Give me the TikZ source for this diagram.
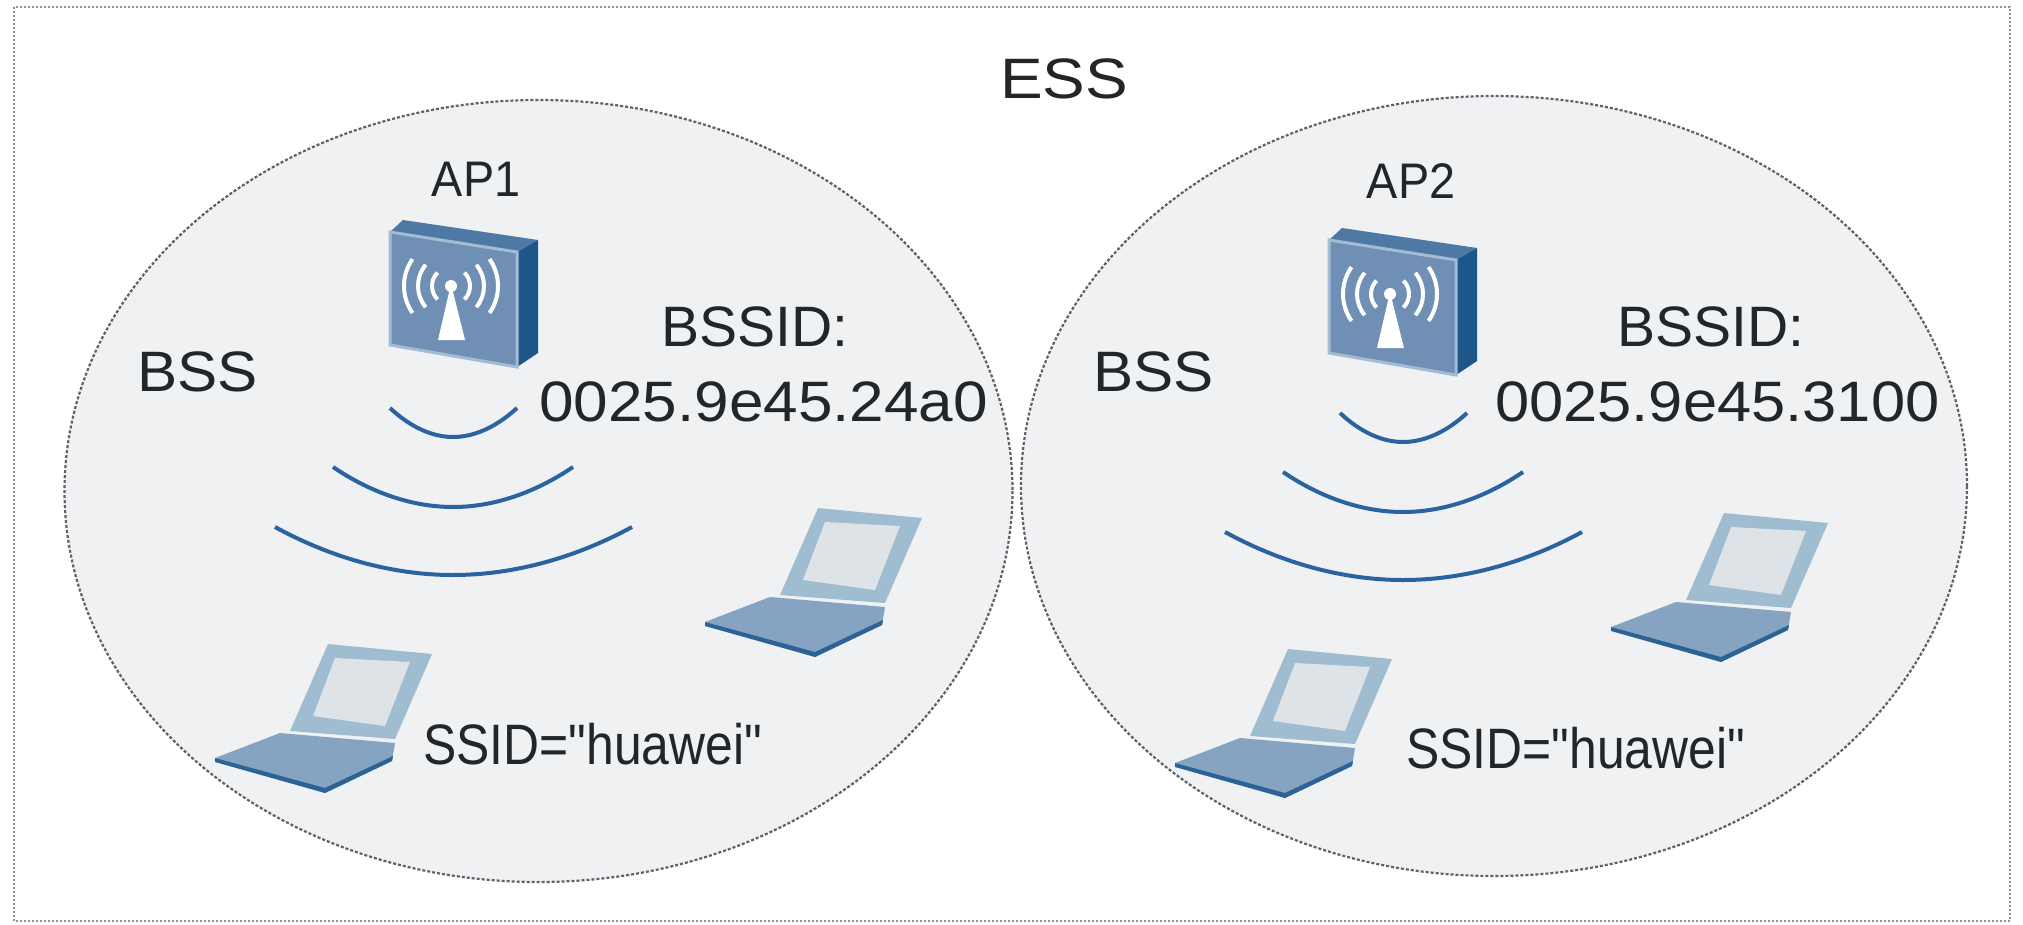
\documentclass[tikz,border=0pt]{standalone}
\usepackage{fontspec}
\newfontfamily\labfont[FakeStretch=1.1]{Liberation Sans}
\newcommand\hsquash[2]{\scalebox{#1}[1]{#2}}
\definecolor{cellfill}{HTML}{F0F1F3}
\definecolor{rimgray}{HTML}{5E6266}
\definecolor{wave}{HTML}{2A64A0}
\definecolor{apfront}{HTML}{6F8FB4}
\definecolor{apedge}{HTML}{A3BBD3}
\definecolor{aptop}{HTML}{4D79A4}
\definecolor{apside}{HTML}{1D5789}
\definecolor{lidframe}{HTML}{9FBCD1}
\definecolor{screen}{HTML}{DEE3E8}
\definecolor{keys}{HTML}{86A3C2}
\definecolor{keysdark}{HTML}{2B6396}
\definecolor{ink}{HTML}{222628}
\tikzset{
  frame/.style={draw=rimgray!70, line width=2pt, dash pattern=on 2pt off 2pt},
  bss/.style={fill=cellfill, draw=rimgray, line width=2.2pt, dash pattern=on 3pt off 2pt},
  lbl/.style={inner sep=0pt, anchor=base west, text=ink, font=\labfont\fontsize{57}{60}\selectfont},
  aplbl/.style={inner sep=0pt, anchor=base, text=ink, font=\labfont\fontsize{50}{54}\selectfont},
  radio/.style={draw=wave, line width=4pt},
  ap/.pic={
    \fill[aptop] (0,0) -- (13,-12) -- (148,8) -- (127,20) -- cycle;
    \fill[apside] (127,20) -- (148,8) -- (148,121) -- (127,135) -- cycle;
    \filldraw[fill=apfront, draw=apedge, line width=3pt] (0,0) -- (127,20) -- (127,135) -- (0,113) -- cycle;
    \fill[white] (61,52) -- (48,108) -- (75,108) -- cycle;
    \fill[white] (61,54) circle (6);
    \foreach \r/\a in {19/45,33/40,47/35}{
      \draw[white, line width=4pt] (61,54) ++(-\a:\r) arc[start angle=-\a, end angle=\a, radius=\r];
      \draw[white, line width=4pt] (61,54) ++(180-\a:\r) arc[start angle=180-\a, end angle=180+\a, radius=\r];
    }
  },
  laptop/.pic={
    \fill[keys] (0,0) -- (65,-25) -- (180,-15) -- (177,3) -- (110,35) -- cycle;
    \fill[keysdark] (0,0) -- (110,30) -- (178,-2) -- (177,3) -- (110,35) -- (0,4) -- cycle;
    \fill[lidframe] (75,-27) -- (113,-114) -- (217,-104) -- (180,-19) -- cycle;
    \fill[screen] (98,-42) -- (120,-100) -- (195,-96) -- (170,-32) -- cycle;
  },
}
\begin{document}
\begin{tikzpicture}[x=1pt, y=-1pt]
  \useasboundingbox (0,0) rectangle (2023,924);
  \fill[white] (0,0) rectangle (2023,924);
  % extended service set boundary
  \draw[frame] (14,7) rectangle (2010,921);
  % the two basic service sets
  \draw[bss] (538.5,491) ellipse [x radius=474, y radius=391];
  \draw[bss] (1494,486) ellipse [x radius=473, y radius=390];

  \node[lbl, anchor=base] (ess) at (1064,98) {\hsquash{1.02}{ESS}};

  % ---- BSS 1 ----
  \node[aplbl] (ap1lbl) at (476,196) {\hsquash{0.85}{AP1}};
  \pic (ap1) at (390,232) {ap};
  \node[lbl] (bss1) at (137,391) {\hsquash{0.96}{BSS}};
  \node[lbl] (bssid1) at (661,346) {\hsquash{0.91}{BSSID:}};
  \node[lbl] (mac1) at (539,421) {\hsquash{0.99}{0025.9e45.24a0}};
  \draw[radio] (390,408) parabola bend (453,437) (517,408);
  \draw[radio] (333,467) parabola bend (453,507) (573,467);
  \draw[radio] (275,527) parabola bend (453,575) (632,527);
  \pic (sta1a) at (705,622) {laptop};
  \pic (sta1b) at (215,758) {laptop};
  \node[lbl] (ssid1) at (423,764) {\hsquash{0.795}{SSID="huawei"}};

  % ---- BSS 2 ----
  \node[aplbl] (ap2lbl) at (1411,198) {\hsquash{0.85}{AP2}};
  \pic (ap2) at (1329,240) {ap};
  \node[lbl] (bss2) at (1093,391) {\hsquash{0.96}{BSS}};
  \node[lbl] (bssid2) at (1617,346) {\hsquash{0.91}{BSSID:}};
  \node[lbl] (mac2) at (1495,421) {\hsquash{0.98}{0025.9e45.3100}};
  \draw[radio] (1340,413) parabola bend (1403,442) (1467,413);
  \draw[radio] (1283,472) parabola bend (1403,512) (1523,472);
  \draw[radio] (1225,532) parabola bend (1403,580) (1582,532);
  \pic (sta2a) at (1611,627) {laptop};
  \pic (sta2b) at (1175,763) {laptop};
  \node[lbl] (ssid2) at (1406,768) {\hsquash{0.795}{SSID="huawei"}};
\end{tikzpicture}
\end{document}
